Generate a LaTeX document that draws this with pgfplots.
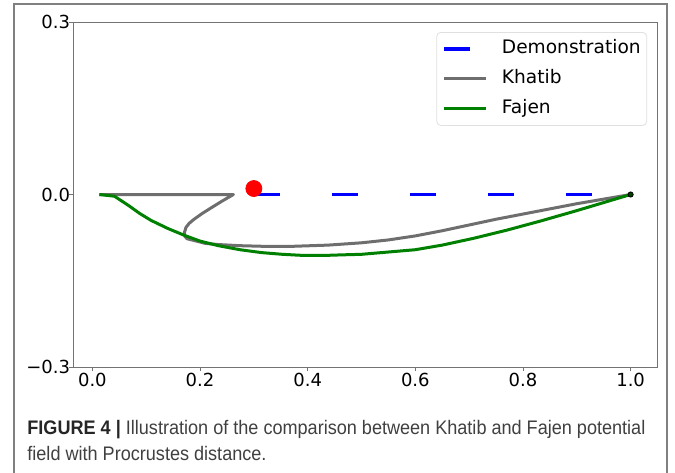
\documentclass[border=0pt]{standalone}
\usepackage{pgfplots}
\pgfplotsset{compat=1.18}
\usepackage{fontspec}
\setmainfont{DejaVu Sans}
\newfontfamily\capfont{Liberation Sans}
\usepackage{graphicx}
\definecolor{khgray}{RGB}{110,110,110}
\definecolor{fjgreen}{RGB}{0,128,0}
\begin{document}
\begin{tikzpicture}
\useasboundingbox (0,0) rectangle (337.5pt,-236pt);
% outer frame
\draw[black!50, line width=0.75pt] (7pt,-245pt) -- (7pt,-2pt) -- (333.5pt,-2pt) -- (333.5pt,-245pt);
\begin{axis}[
  at={(36.5pt,-183.5pt)}, anchor=south west,
  width=292pt, height=172.5pt, scale only axis,
  xmin=-0.036, xmax=1.049, ymin=-0.3, ymax=0.3,
  xtick={0,0.2,0.4,0.6,0.8,1.0},
  xticklabels={0.0,0.2,0.4,0.6,0.8,1.0},
  ytick={-0.3,0,0.3},
  yticklabels={−0.3,0.0,0.3},
  tick label style={font=\fontsize{9}{10}\selectfont, inner sep=0.8pt},
  yticklabel style={xshift=1.5pt},
  tick align=outside, xtick pos=bottom, ytick pos=left,
  major tick length=2pt,
  tick style={black!55, line width=0.4pt},
  axis line style={black!55, line width=0.4pt},
  legend style={at={(0.983,0.971)}, anchor=north east,
    draw=black!12, rounded corners=2pt, fill=white,
    font=\fontsize{9.3}{10}\selectfont,
    inner xsep=3pt, inner ysep=3.75pt, row sep=6pt,
    nodes={inner sep=0pt, text height=7pt, text depth=2pt},
    column sep=0pt},
  legend cell align=left,
  legend image code/.code={\draw[#1] (0pt,0pt) -- (21pt,0pt);},
  legend style={/tikz/every odd column/.append style={column sep=7pt}},
]
\addplot[blue, line width=1.6pt, dash pattern=on 13pt off 26pt, line cap=butt]
  coordinates {(0.3,0) (1.0,0)};
\addlegendentry{Demonstration}
\addplot[khgray, line width=1.5pt, line join=round]
  coordinates {
  (0.013,0) (0.262,0) (0.240,-0.012) (0.221,-0.023) (0.204,-0.033) (0.189,-0.043)
  (0.180,-0.050) (0.174,-0.057) (0.171,-0.066) (0.172,-0.073) (0.176,-0.077)
  (0.189,-0.080) (0.210,-0.085) (0.234,-0.087) (0.274,-0.089) (0.314,-0.090)
  (0.375,-0.090) (0.438,-0.088) (0.500,-0.084) (0.550,-0.079) (0.600,-0.072)
  (0.650,-0.063) (0.700,-0.053) (0.750,-0.043) (0.800,-0.034) (0.850,-0.025)
  (0.900,-0.016) (0.950,-0.008) (1.0,0)};
\addlegendentry{Khatib}
\addplot[fjgreen, line width=1.5pt, line join=round]
  coordinates {
  (0.013,0) (0.041,-0.003) (0.067,-0.019) (0.088,-0.033) (0.109,-0.045)
  (0.140,-0.059) (0.171,-0.071) (0.200,-0.081) (0.234,-0.089) (0.274,-0.096)
  (0.314,-0.101) (0.353,-0.104) (0.393,-0.106) (0.430,-0.106) (0.462,-0.105)
  (0.500,-0.104) (0.550,-0.100) (0.600,-0.096) (0.650,-0.088) (0.709,-0.076)
  (0.770,-0.062) (0.833,-0.046) (0.900,-0.028) (0.950,-0.014) (1.0,0)};
\addlegendentry{Fajen}
\addplot[only marks, mark=*, mark size=4pt, red, forget plot]
  coordinates {(0.3,0.0104)};
\addplot[only marks, mark=*, mark size=1.3pt, draw=black, fill=fjgreen!50!black, forget plot]
  coordinates {(1.0,0)};
\end{axis}
\node[anchor=base west, inner sep=0pt] at (13.5pt,-217pt) {%
  \resizebox{309pt}{\height}{\capfont\fontsize{9.8}{13}\selectfont
  \begin{tabular}[t]{@{}l@{}}
  \textcolor{black!85}{\textbf{FIGURE 4 |}} \textcolor{black!75}{Illustration of the comparison between Khatib and Fajen potential}\\
  \textcolor{black!75}{field with Procrustes distance.}
  \end{tabular}}};
\end{tikzpicture}
\end{document}
